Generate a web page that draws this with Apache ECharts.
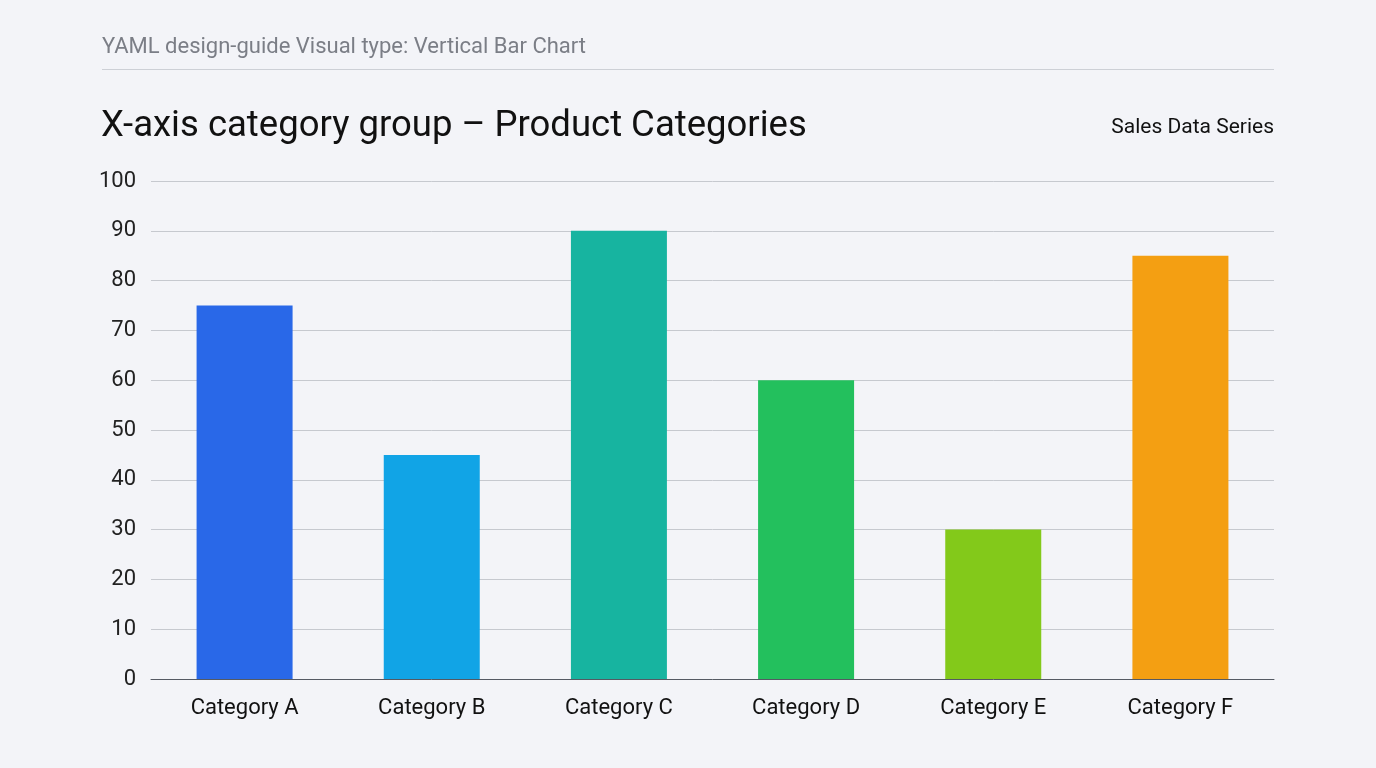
<!DOCTYPE html>
<html lang="en">
<head>
  <meta charset="UTF-8">
  <title>Vertical Bar Chart</title>
  <script src="https://cdn.jsdelivr.net/npm/echarts@6/dist/echarts.min.js"></script>
  <style>
    html, body { margin: 0; padding: 0; background: #f3f4f8; }
    #chart { width: 1376px; height: 768px; }
  </style>
</head>
<body>
  <div id="chart"></div>
  <script>
    var aCategories = ['Category A', 'Category B', 'Category C', 'Category D', 'Category E', 'Category F'];
    var aSales = [75, 45, 90, 60, 30, 85];
    var aColors = ['#2968e8', '#11a4e6', '#17b4a0', '#23c05d', '#83c91a', '#f49f12'];

    var oChart = echarts.init(document.getElementById('chart'));
    var font = 'Roboto, "Noto Sans", sans-serif';

    var opt = {
      backgroundColor: '#f3f4f8',
      textStyle: { fontFamily: font },
      title: [
        {
          text: 'YAML design-guide Visual type: Vertical Bar Chart',
          left: 102, top: 36, padding: 0,
          textStyle: { fontSize: 22, fontWeight: 'normal', color: '#7b7e86', fontFamily: font }
        },
        {
          text: 'X-axis category group \u2013 Product Categories',
          left: 101, top: 108, padding: 0,
          textStyle: { fontSize: 36.5, fontWeight: 'normal', color: '#111', fontFamily: font }
        },
        {
          text: 'Sales Data Series',
          right: 102, top: 117, padding: 0,
          textStyle: { fontSize: 21, fontWeight: 'normal', color: '#111', fontFamily: font }
        }
      ],
      graphic: [
        {
          type: 'line',
          shape: { x1: 102, y1: 69.5, x2: 1274, y2: 69.5 },
          style: { stroke: '#cdd0d6', lineWidth: 1 }
        }
      ],
      grid: { left: 151, right: 102, top: 181, bottom: 89, containLabel: false },
      xAxis: {
        type: 'category',
        data: aCategories,
        axisTick: { show: false },
        axisLine: { lineStyle: { color: '#555a63', width: 1 } },
        axisLabel: { fontSize: 22, color: '#111', margin: 18, fontFamily: font }
      },
      yAxis: {
        type: 'value',
        min: 0, max: 100, interval: 10,
        axisLine: { show: false },
        axisTick: { show: false },
        splitLine: { lineStyle: { color: '#c6c9cf', width: 1 } },
        axisLabel: { fontSize: 22, color: '#222', margin: 15, fontFamily: font }
      },
      series: [
        {
          name: 'Sales Data Series',
          type: 'bar',
          barWidth: 96,
          data: aSales.map(function (v, i) {
            return { value: v, itemStyle: { color: aColors[i] } };
          })
        }
      ]
    };

    oChart.setOption(opt);
  </script>
</body>
</html>
